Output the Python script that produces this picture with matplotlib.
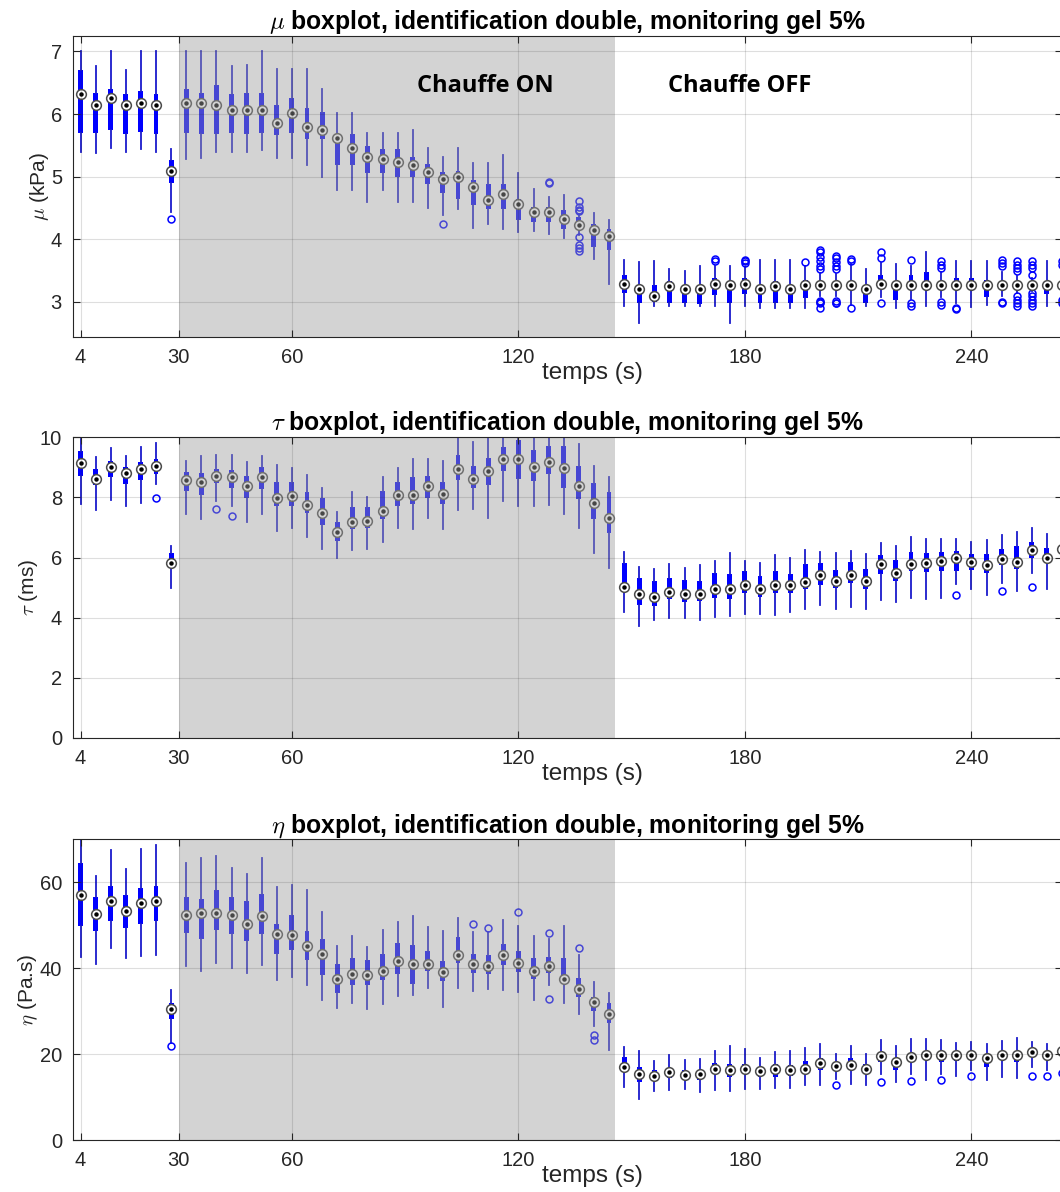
import numpy as np
import matplotlib
matplotlib.use("Agg")
import matplotlib.pyplot as plt

plt.rcParams["font.family"] = ["Liberation Sans", "DejaVu Sans"]
plt.rcParams["mathtext.fontset"] = "cm"

# time of each acquisition (s)
temps = np.arange(4, 268, 4)

# mu (kPa): whisker low, q1, median, q3, whisker high
mu_lo = [5.40, 5.37, 5.46, 5.40, 5.44, 5.40, 4.43,
         5.28, 5.30, 5.40, 5.40, 5.40, 5.43, 5.29, 5.29, 5.19, 5.00, 4.79, 4.79, 4.59, 4.79, 4.59, 4.59,
         4.50, 4.39, 4.49, 4.18, 4.25, 4.16, 4.12, 4.13, 4.08, 4.02, 4.07, 3.69, 3.29,
         2.93, 2.66, 2.93, 2.93, 2.93, 2.93, 2.93, 2.67, 2.93, 2.91, 2.91, 2.91, 2.91, 3.09, 3.10,
         2.95, 2.93, 3.08, 2.91, 3.05, 2.93, 3.08, 2.98, 2.92, 2.95, 3.10, 3.15, 3.18, 2.93, 3.15]
mu_q1 = [5.69, 5.70, 5.74, 5.68, 5.71, 5.68, 4.90,
         5.70, 5.68, 5.68, 5.70, 5.68, 5.70, 5.66, 5.69, 5.60, 5.60, 5.19, 5.19, 5.06, 5.06, 5.00, 5.00,
         4.89, 4.74, 4.64, 4.55, 4.48, 4.48, 4.31, 4.28, 4.28, 4.17, 4.15, 3.88, 3.83,
         3.14, 2.99, 3.00, 2.99, 2.98, 2.97, 3.11, 2.98, 3.13, 2.99, 2.98, 2.99, 3.06, 3.20, 3.21,
         3.20, 2.99, 3.20, 3.03, 3.24, 3.26, 3.22, 3.24, 3.22, 3.08, 3.22, 3.23, 3.23, 3.12, 3.22]
mu_med = [6.32, 6.15, 6.25, 6.14, 6.18, 6.15, 5.09,
          6.17, 6.17, 6.14, 6.07, 6.07, 6.07, 5.85, 6.01, 5.79, 5.75, 5.61, 5.45, 5.32, 5.28, 5.24, 5.19,
          5.07, 4.96, 4.99, 4.83, 4.63, 4.73, 4.56, 4.44, 4.44, 4.33, 4.23, 4.15, 4.05,
          3.28, 3.20, 3.09, 3.26, 3.20, 3.20, 3.28, 3.27, 3.28, 3.20, 3.26, 3.20, 3.27, 3.27, 3.27,
          3.27, 3.20, 3.28, 3.27, 3.27, 3.27, 3.27, 3.27, 3.27, 3.27, 3.27, 3.27, 3.27, 3.27, 3.27]
mu_q3 = [6.71, 6.33, 6.40, 6.32, 6.37, 6.32, 5.27,
         6.40, 6.33, 6.47, 6.32, 6.33, 6.33, 6.15, 6.25, 6.09, 6.03, 5.67, 5.68, 5.49, 5.44, 5.44, 5.32,
         5.20, 5.08, 5.09, 4.95, 4.88, 4.89, 4.65, 4.52, 4.52, 4.47, 4.36, 4.24, 4.17,
         3.43, 3.27, 3.27, 3.33, 3.27, 3.27, 3.38, 3.33, 3.38, 3.26, 3.33, 3.27, 3.35, 3.30, 3.31,
         3.31, 3.25, 3.43, 3.33, 3.43, 3.48, 3.31, 3.38, 3.38, 3.35, 3.31, 3.30, 3.30, 3.33, 3.30]
mu_hi = [7.00, 6.76, 7.00, 6.71, 7.00, 7.00, 5.44,
         7.00, 7.00, 7.00, 6.76, 6.78, 7.00, 6.72, 6.72, 6.72, 6.40, 6.02, 6.02, 5.69, 5.69, 5.69, 5.75,
         5.46, 5.32, 5.46, 5.21, 5.21, 5.34, 5.06, 4.80, 4.68, 4.71, 4.41, 4.42, 4.30,
         3.67, 3.63, 3.65, 3.53, 3.50, 3.57, 3.58, 3.57, 3.56, 3.67, 3.67, 3.67, 3.57, 3.46, 3.45,
         3.60, 3.53, 3.62, 3.60, 3.57, 3.80, 3.47, 3.65, 3.65, 3.65, 3.48, 3.42, 3.38, 3.65, 3.45]
mu_out = {28: [4.32], 100: [4.25], 128: [4.90, 4.91],
          136: [4.61, 4.52, 4.47, 4.45, 4.04, 3.91, 3.86, 3.82],
          172: [3.68, 3.66], 180: [3.65, 3.62, 3.67], 196: [3.63],
          200: [3.83, 3.80, 3.72, 3.66, 3.58, 3.53, 3.01, 3.00, 2.98, 2.90],
          204: [3.74, 3.70, 3.63, 3.57, 3.53, 3.01, 2.99, 2.98],
          208: [3.68, 3.65, 2.90], 216: [3.80, 3.70, 2.98], 224: [3.67, 2.99, 2.93],
          232: [3.65, 3.59, 3.54, 3.00, 2.95], 236: [2.90, 2.89],
          248: [3.67, 3.62, 3.57, 3.00, 2.98],
          252: [3.65, 3.59, 3.54, 3.49, 3.09, 3.03, 2.98, 2.93],
          256: [3.65, 3.59, 3.54, 3.43, 3.14, 3.09, 3.03, 2.98, 2.93],
          264: [3.65, 3.59, 3.03, 2.98]}

# tau (ms)
tau_lo = [7.78, 7.58, 7.91, 7.72, 7.80, 8.44, 5.00,
          7.44, 7.28, 7.89, 7.72, 7.19, 7.44, 6.89, 6.97, 6.69, 6.30, 6.00, 6.24, 6.28, 6.52, 6.97, 6.94,
          7.33, 6.94, 7.59, 7.63, 7.33, 7.89, 7.70, 7.70, 7.74, 7.44, 7.00, 6.14, 5.67,
          4.19, 3.72, 3.94, 4.00, 4.00, 3.92, 4.03, 4.06, 4.11, 4.11, 4.08, 4.19, 4.30, 4.41, 4.28,
          4.37, 4.28, 4.59, 4.52, 4.67, 4.61, 4.67, 5.11, 4.97, 4.74, 5.17, 4.89, 5.50, 4.94, 5.30]
tau_q1 = [8.72, 8.41, 8.67, 8.44, 8.58, 8.78, 5.72,
          8.22, 8.09, 8.48, 8.30, 7.97, 8.28, 7.70, 7.70, 7.50, 7.08, 6.56, 6.94, 7.00, 7.28, 7.72, 7.78,
          7.97, 7.78, 8.59, 8.33, 8.41, 8.89, 8.61, 8.56, 8.78, 8.30, 7.94, 7.30, 6.83,
          4.86, 4.41, 4.39, 4.61, 4.52, 4.56, 4.67, 4.61, 4.81, 4.70, 4.83, 4.83, 4.94, 5.08, 5.00,
          5.14, 4.97, 5.44, 5.22, 5.56, 5.52, 5.56, 5.56, 5.59, 5.50, 5.74, 5.61, 5.97, 5.83, 5.90]
tau_med = [9.14, 8.61, 9.00, 8.80, 8.94, 9.06, 5.81,
           8.58, 8.50, 8.72, 8.67, 8.37, 8.67, 7.97, 8.06, 7.74, 7.47, 6.86, 7.17, 7.22, 7.56, 8.08, 8.08,
           8.39, 8.11, 8.94, 8.61, 8.89, 9.28, 9.28, 9.03, 9.19, 8.97, 8.39, 7.83, 7.33,
           5.03, 4.80, 4.70, 4.87, 4.80, 4.78, 4.94, 4.94, 5.09, 4.94, 5.08, 5.09, 5.19, 5.41, 5.22,
           5.41, 5.22, 5.78, 5.50, 5.78, 5.83, 5.89, 5.97, 5.86, 5.74, 5.94, 5.86, 6.26, 6.00, 6.30]
tau_q3 = [9.56, 8.94, 9.22, 9.03, 9.17, 9.28, 6.14,
          8.86, 8.81, 8.94, 8.92, 8.72, 9.00, 8.50, 8.50, 8.17, 7.97, 7.17, 7.67, 7.67, 8.22, 8.52, 8.69,
          8.70, 8.50, 9.41, 9.06, 9.30, 9.67, 9.92, 9.59, 9.72, 9.70, 9.06, 8.48, 8.17,
          5.83, 5.33, 5.22, 5.33, 5.26, 5.22, 5.50, 5.44, 5.56, 5.39, 5.56, 5.47, 5.78, 5.81, 5.59,
          5.86, 5.61, 6.08, 5.92, 6.19, 6.14, 6.19, 6.22, 6.11, 6.11, 6.28, 6.37, 6.52, 6.33, 6.60]
tau_hi = [9.94, 9.33, 9.63, 9.39, 9.67, 9.81, 6.39,
          9.20, 9.37, 9.41, 9.41, 9.19, 9.37, 9.08, 8.97, 8.74, 8.30, 7.52, 8.17, 8.00, 8.67, 8.97, 9.28,
          9.28, 9.22, 10.2, 9.86, 10.2, 10.2, 10.5, 10.3, 10.3, 10.3, 9.78, 9.06, 8.67,
          6.17, 5.70, 5.63, 5.78, 5.67, 5.76, 5.89, 6.14, 5.89, 5.81, 6.08, 6.00, 6.26, 6.17, 6.14,
          6.22, 6.11, 6.50, 6.39, 6.70, 6.61, 6.63, 6.61, 6.52, 6.59, 6.74, 6.86, 7.00, 6.78, 7.00]
tau_out = {24: [7.97], 40: [7.61], 44: [7.37], 236: [4.74], 248: [4.89], 256: [5.03]}

# eta (Pa.s)
eta_lo = [42.6, 41.1, 44.6, 42.3, 42.9, 43.2, 22.6,
          40.5, 39.3, 41.2, 40.1, 38.9, 40.7, 37.2, 38.0, 36.0, 32.7, 30.8, 31.9, 30.6, 31.6, 33.5, 33.7,
          35.3, 31.0, 35.5, 34.7, 35.1, 34.9, 34.5, 32.5, 36.0, 32.0, 29.4, 26.5, 20.9,
          12.3, 9.6, 11.5, 11.7, 11.9, 11.1, 11.7, 11.4, 11.9, 11.9, 12.1, 12.1, 12.7, 12.9, 14.2,
          13.1, 12.7, 15.4, 13.5, 15.4, 13.9, 15.4, 15.0, 16.2, 14.0, 14.6, 14.5, 17.0, 16.2, 17.0]
eta_q1 = [49.8, 48.6, 51.1, 49.4, 50.4, 51.1, 28.2,
          48.1, 46.8, 48.9, 47.9, 46.4, 47.9, 43.3, 44.2, 41.9, 38.5, 34.2, 36.0, 36.0, 37.2, 38.6, 36.3,
          39.4, 37.0, 41.3, 38.8, 38.6, 40.7, 39.1, 37.4, 38.9, 36.8, 33.3, 30.0, 27.2,
          15.8, 13.5, 13.7, 14.5, 14.0, 13.9, 15.4, 14.6, 15.4, 14.6, 14.6, 15.0, 15.8, 16.2, 16.2,
          16.3, 15.4, 18.1, 16.3, 18.1, 18.9, 18.1, 18.5, 18.9, 17.1, 18.9, 18.1, 19.5, 18.9, 19.5]
eta_med = [57.0, 52.6, 55.6, 53.3, 55.3, 55.7, 30.4,
           52.5, 52.8, 52.8, 52.5, 50.4, 52.1, 47.9, 47.7, 45.1, 43.4, 37.4, 38.6, 38.4, 39.4, 41.7, 40.9,
           41.1, 39.1, 43.0, 40.9, 40.5, 43.2, 41.3, 39.4, 40.5, 37.6, 35.1, 32.1, 29.4,
           17.1, 15.4, 14.9, 15.8, 15.2, 15.3, 16.6, 16.2, 16.6, 16.0, 16.6, 16.2, 16.6, 18.0, 17.2,
           17.5, 16.6, 19.5, 18.1, 19.3, 19.7, 19.7, 19.7, 19.7, 19.1, 19.7, 19.7, 20.5, 19.7, 20.7]
eta_q3 = [64.4, 56.5, 59.1, 57.0, 58.8, 59.1, 31.9,
          56.7, 56.1, 58.2, 56.5, 55.6, 57.4, 50.3, 52.5, 48.7, 46.7, 40.9, 42.3, 41.9, 43.3, 45.8, 45.4,
          44.0, 41.7, 47.3, 43.3, 43.0, 45.6, 44.0, 42.3, 42.6, 42.3, 37.7, 33.3, 31.8,
          19.3, 17.1, 16.2, 16.8, 16.3, 16.3, 17.9, 17.6, 17.7, 17.1, 17.7, 17.4, 18.5, 19.1, 18.1,
          19.1, 17.7, 20.5, 18.9, 19.9, 20.5, 20.5, 20.2, 20.1, 19.3, 20.5, 20.7, 21.2, 20.5, 21.5]
eta_hi = [71.0, 61.5, 67.5, 63.0, 67.7, 68.7, 35.0,
          64.6, 65.6, 66.1, 63.3, 61.9, 65.6, 59.0, 59.4, 58.2, 53.2, 45.1, 47.5, 45.0, 48.9, 50.8, 52.2,
          49.6, 48.6, 51.8, 48.5, 48.5, 51.2, 49.8, 47.5, 46.7, 49.8, 43.2, 36.8, 34.2,
          21.6, 20.7, 18.5, 19.7, 18.7, 18.9, 20.7, 21.8, 21.2, 19.1, 20.5, 20.7, 21.5, 22.3, 20.1,
          22.0, 20.1, 23.2, 22.0, 23.6, 23.6, 23.2, 22.6, 22.8, 22.4, 23.0, 23.8, 22.8, 22.3, 23.5]
eta_out = {28: [21.9], 108: [50.4], 112: [49.4], 120: [53.0], 128: [48.3, 32.8], 136: [44.7],
           140: [24.5, 23.3], 204: [12.7], 216: [13.5], 224: [13.7], 232: [13.9], 240: [15.0],
           256: [15.0], 260: [14.8], 264: [15.6]}

xticks = [4, 30, 60, 120, 180, 240]
chauffe = (30, 145.6)

panels = [
    ("\\mu", "$\\mu$ (kPa)", mu_lo, mu_q1, mu_med, mu_q3, mu_hi, mu_out, (2.44, 7.24), [3, 4, 5, 6, 7]),
    ("\\tau", "$\\tau$ (ms)", tau_lo, tau_q1, tau_med, tau_q3, tau_hi, tau_out, (0, 10), [0, 2, 4, 6, 8, 10]),
    ("\\eta", "$\\eta$ (Pa.s)", eta_lo, eta_q1, eta_med, eta_q3, eta_hi, eta_out, (0, 70), [0, 20, 40, 60]),
]

fig = plt.figure(figsize=(10.6, 11.92), dpi=100)
bottoms = [0.7173, 0.3809, 0.0436]
dark = "#262626"

for (sym, ylab, lo, q1, med, q3, hi, out, ylim, yticks), bot in zip(panels, bottoms):
    ax = fig.add_axes([73 / 1060, bot, 989 / 1060, 0.2522])
    stats = []
    for i, t in enumerate(temps):
        stats.append({"whislo": lo[i], "q1": q1[i], "med": med[i], "q3": q3[i],
                      "whishi": hi[i], "fliers": out.get(int(t), [])})
    ax.bxp(stats, positions=temps, widths=1.3, patch_artist=True, showcaps=False,
           manage_ticks=False,
           boxprops=dict(facecolor="blue", edgecolor="blue", linewidth=0),
           whiskerprops=dict(color="#1a1acc", linewidth=1.3),
           medianprops=dict(linewidth=0),
           flierprops=dict(marker="o", markerfacecolor="none", markeredgecolor="blue",
                           markersize=5, markeredgewidth=1.1),
           zorder=1)
    ax.plot(temps, med, "o", ms=7, mfc="white", mec="#4a4a4a", mew=1.1, zorder=1.4)
    ax.plot(temps, med, "o", ms=2.2, color="black", zorder=1.5)

    ax.axvspan(chauffe[0], chauffe[1], facecolor=(0.62, 0.62, 0.62), alpha=0.45, lw=0, zorder=2)

    ax.set_xlim(2, 264)
    ax.set_ylim(*ylim)
    ax.set_xticks(xticks, labels=[str(x) for x in xticks])
    ax.set_yticks(yticks, labels=[str(y) for y in yticks])
    ax.set_axisbelow(False)
    ax.grid(True, color=(0.15, 0.15, 0.15), alpha=0.15, lw=0.8)
    ax.tick_params(direction="in", top=True, right=True, length=5, width=0.8,
                   color=dark, labelcolor=dark, labelsize=14.5, pad=8)
    for sp in ax.spines.values():
        sp.set_color(dark)
        sp.set_linewidth(0.8)

    ax.set_title("$" + sym + "$ boxplot, identification double, monitoring gel 5%",
                 fontsize=17.8, fontweight="bold", pad=5)
    ax.set_ylabel(ylab, fontsize=15, color=dark, labelpad=0)
    ax.set_xlabel("temps (s)", fontsize=17.5, color=dark)
    ax.xaxis.set_label_coords(0.525, -0.083)

    if sym == "\\mu":
        ax.text(93.2, 6.44, "Chauffe ON", family="Open Sans", fontweight="bold",
                fontsize=17, va="center", zorder=3)
        ax.text(159.6, 6.44, "Chauffe OFF", family="Open Sans", fontweight="bold",
                fontsize=17, va="center", zorder=3)

fig.savefig("out.png", dpi=100)
